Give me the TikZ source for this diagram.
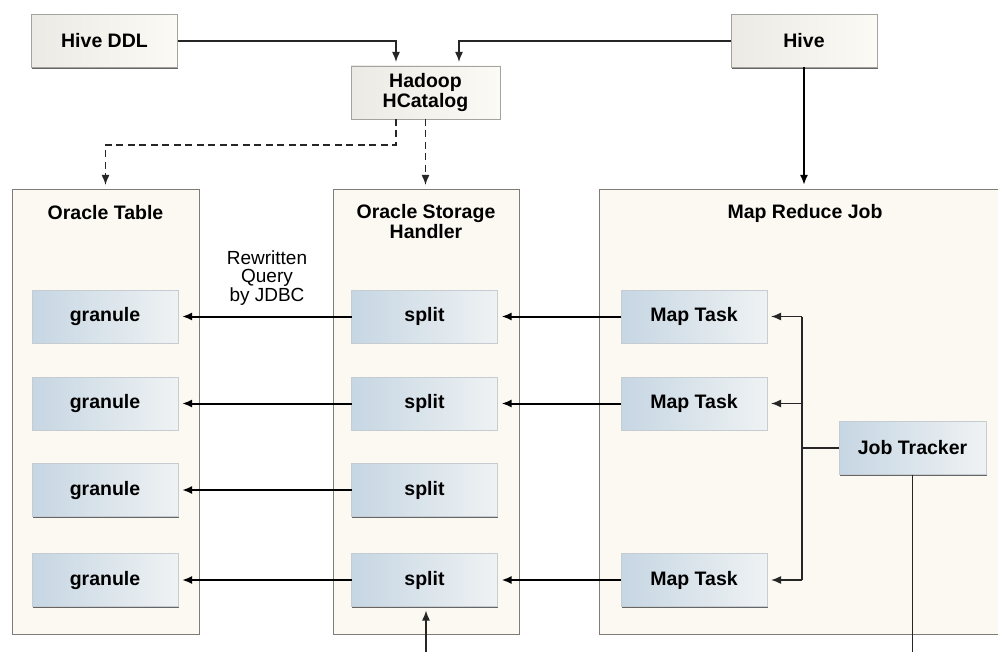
\documentclass[tikz,border=0pt]{standalone}
\usepackage{fontspec}
\setmainfont{Liberation Sans}
\usetikzlibrary{arrows.meta,shadows}
\definecolor{panelfill}{HTML}{FCF9F2}
\definecolor{edgegray}{HTML}{7E7C78}
\definecolor{topleft}{HTML}{ECEAE4}
\definecolor{topright}{HTML}{FCFAF4}
\definecolor{blueleft}{HTML}{C6D6E3}
\definecolor{blueright}{HTML}{EFF2F3}
\tikzset{
  boxshadow/.style={drop shadow={shadow xshift=0.8pt,shadow yshift=-1.4pt,fill=black!60,opacity=1}},
  panel/.style={draw=edgegray, line width=0.9pt, fill=panelfill, boxshadow, inner sep=0pt, outer sep=0pt},
  topbox/.style={draw=edgegray!70, line width=0.7pt, left color=topleft, right color=topright, boxshadow,
    minimum width=146pt, minimum height=53pt, inner sep=0pt, outer sep=0pt, align=center,
    font=\bfseries\fontsize{19.5}{20.5}\selectfont},
  bluebox/.style={topbox, draw=blueleft!80!black!60, left color=blueleft, right color=blueright},
  title/.style={align=center, font=\bfseries\fontsize{19.5}{20}\selectfont},
  note/.style={align=center, font=\fontsize{19}{17.5}\selectfont},
  conn/.style={-{Latex[length=10pt,width=8pt]}, line width=2pt, shorten >=4pt},
  thinconn/.style={conn, line width=1.5pt, draw=black!85},
  dashconn/.style={thinconn, dashed, dash pattern=on 7pt off 4.5pt}
}
\begin{document}
\begin{tikzpicture}[x=1pt,y=-1pt]
\clip (0,0) rectangle (998,652);
\fill[white] (0,0) rectangle (998,652);
% Panels
\node[panel, minimum width=187pt, minimum height=445pt] (otab) at (105.5,411.5) {};
\node[panel, minimum width=186pt, minimum height=445pt] (osh) at (426,411.5) {};
\node[panel, minimum width=412pt, minimum height=445pt] (mrj) at (805,411.5) {};
\node[title] (otabt) at (105.5,213) {Oracle Table};
\node[title] (osht) at (426,222) {Oracle Storage\\Handler};
\node[title] (mrjt) at (805,213) {Map Reduce Job};
% Top row
\node[topbox] (hiveddl) at (104.5,41) {Hive DDL};
\node[topbox] (hive) at (804,41) {Hive};
\node[topbox, minimum width=149pt] (hcat) at (425.5,92.5) {Hadoop\\HCatalog};
% Oracle Table
\node[bluebox] (g1) at (105,316.5) {granule};
\node[bluebox] (g2) at (105,403.5) {granule};
\node[bluebox] (g3) at (105,490) {granule};
\node[bluebox] (g4) at (105,580) {granule};
% Storage handler
\node[bluebox] (s1) at (424.5,316.5) {split};
\node[bluebox] (s2) at (424.5,403.5) {split};
\node[bluebox] (s3) at (424.5,490) {split};
\node[bluebox] (s4) at (424.5,580) {split};
% Map reduce
\node[bluebox] (m1) at (694,316.5) {Map Task};
\node[bluebox] (m2) at (694,403.5) {Map Task};
\node[bluebox] (m4) at (694,580) {Map Task};
\node[bluebox, minimum width=147pt] (jt) at (912.5,448) {Job Tracker};
\node[note] (rq) at (267,278) {Rewritten\\Query\\by JDBC};
% Connectors
\draw[thinconn] (hiveddl.east) -| ([xshift=-29.5pt]hcat.north);
\draw[thinconn] (hive.west) -| ([xshift=33.5pt]hcat.north);
\draw[conn] (hive.south) -- (hive.south |- mrj.north);
\draw[dashconn] ([xshift=-29.5pt]hcat.south) -- ++(0,26) -| (otab.north);
\draw[dashconn] (hcat.south) -- (hcat.south |- osh.north);
\draw[conn] (s1.west) -- (g1.east);
\draw[conn] (s2.west) -- (g2.east);
\draw[conn] (s3.west) -- (g3.east);
\draw[conn] (s4.west) -- (g4.east);
\draw[conn] (m1.west) -- (s1.east);
\draw[conn] (m2.west) -- (s2.east);
\draw[conn] (m4.west) -- (s4.east);
\draw[line width=1.5pt, draw=black!85] (jt.west) -- ++(-37,0) coordinate (bus);
\draw[line width=1.5pt, draw=black!85] (bus |- m1.east) -- (bus |- m4.east);
\draw[thinconn] (bus |- m1.east) -- (m1.east);
\draw[thinconn] (bus |- m2.east) -- (m2.east);
\draw[thinconn] (bus |- m4.east) -- (m4.east);
\coordinate (bot) at (0,652);
\coordinate (sin) at (426,652);
\draw[line width=1.5pt, draw=black!85] (jt.south) -- (jt.south |- bot);
\draw[thinconn] (sin) -- (sin |- s4.south);
\end{tikzpicture}
\end{document}
